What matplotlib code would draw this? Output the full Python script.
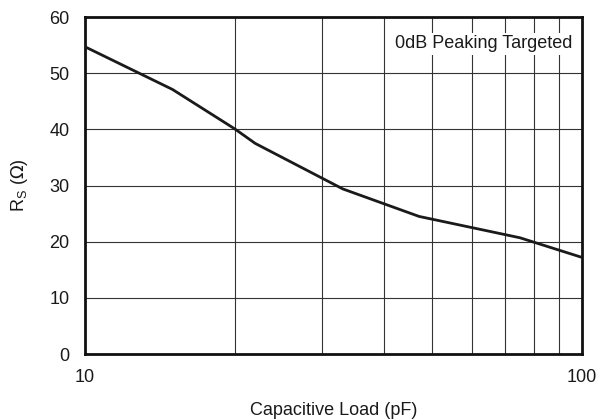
import numpy as np
import matplotlib.pyplot as plt

plt.rcParams['font.family'] = ['Liberation Sans', 'DejaVu Sans']

# data
cap_pf = [10, 15, 20, 22, 33, 47, 75, 100]
rs_ohm = [54.7, 47.1, 40.1, 37.5, 29.4, 24.5, 20.7, 17.2]

xticks = [10, 100]
yticks = [0, 10, 20, 30, 40, 50, 60]

fs = 13

fig = plt.figure(figsize=(5.97, 4.2), dpi=100)
ax = fig.add_axes([0.1424, 0.157, 0.8326, 0.8025])

ax.plot(cap_pf, rs_ohm, color='#1a1a1a', lw=2.0, zorder=3)

ax.set_xscale('log')
ax.set_xlim(10, 100)
ax.set_ylim(0, 60)

# grid
for xv in range(20, 100, 10):
    ax.axvline(xv, color='#333333', lw=0.8, zorder=1)
for yv in yticks[1:-1]:
    ax.axhline(yv, color='#333333', lw=0.8, zorder=1)

ax.set_xticks(xticks)
ax.set_xticklabels([str(v) for v in xticks])
ax.xaxis.set_minor_locator(plt.NullLocator())
ax.set_yticks(yticks)
ax.tick_params(length=0, labelsize=fs, colors='#1a1a1a')
ax.tick_params(axis='x', pad=11)
ax.tick_params(axis='y', pad=11)

for s in ax.spines.values():
    s.set_linewidth(2.0)
    s.set_color('#111111')

ax.set_xlabel('Capacitive Load (pF)', fontsize=fs, labelpad=11, color='#1a1a1a')
ax.set_ylabel(r'R$_\mathregular{S}$ ($\Omega$)', fontsize=fs, labelpad=14, color='#1a1a1a')

ax.text(0.98, 0.92, '0dB Peaking Targeted', transform=ax.transAxes,
        ha='right', va='center', fontsize=fs, color='#1a1a1a', zorder=4,
        bbox=dict(facecolor='white', edgecolor='none', pad=2))

fig.savefig('out.png', dpi=100)
